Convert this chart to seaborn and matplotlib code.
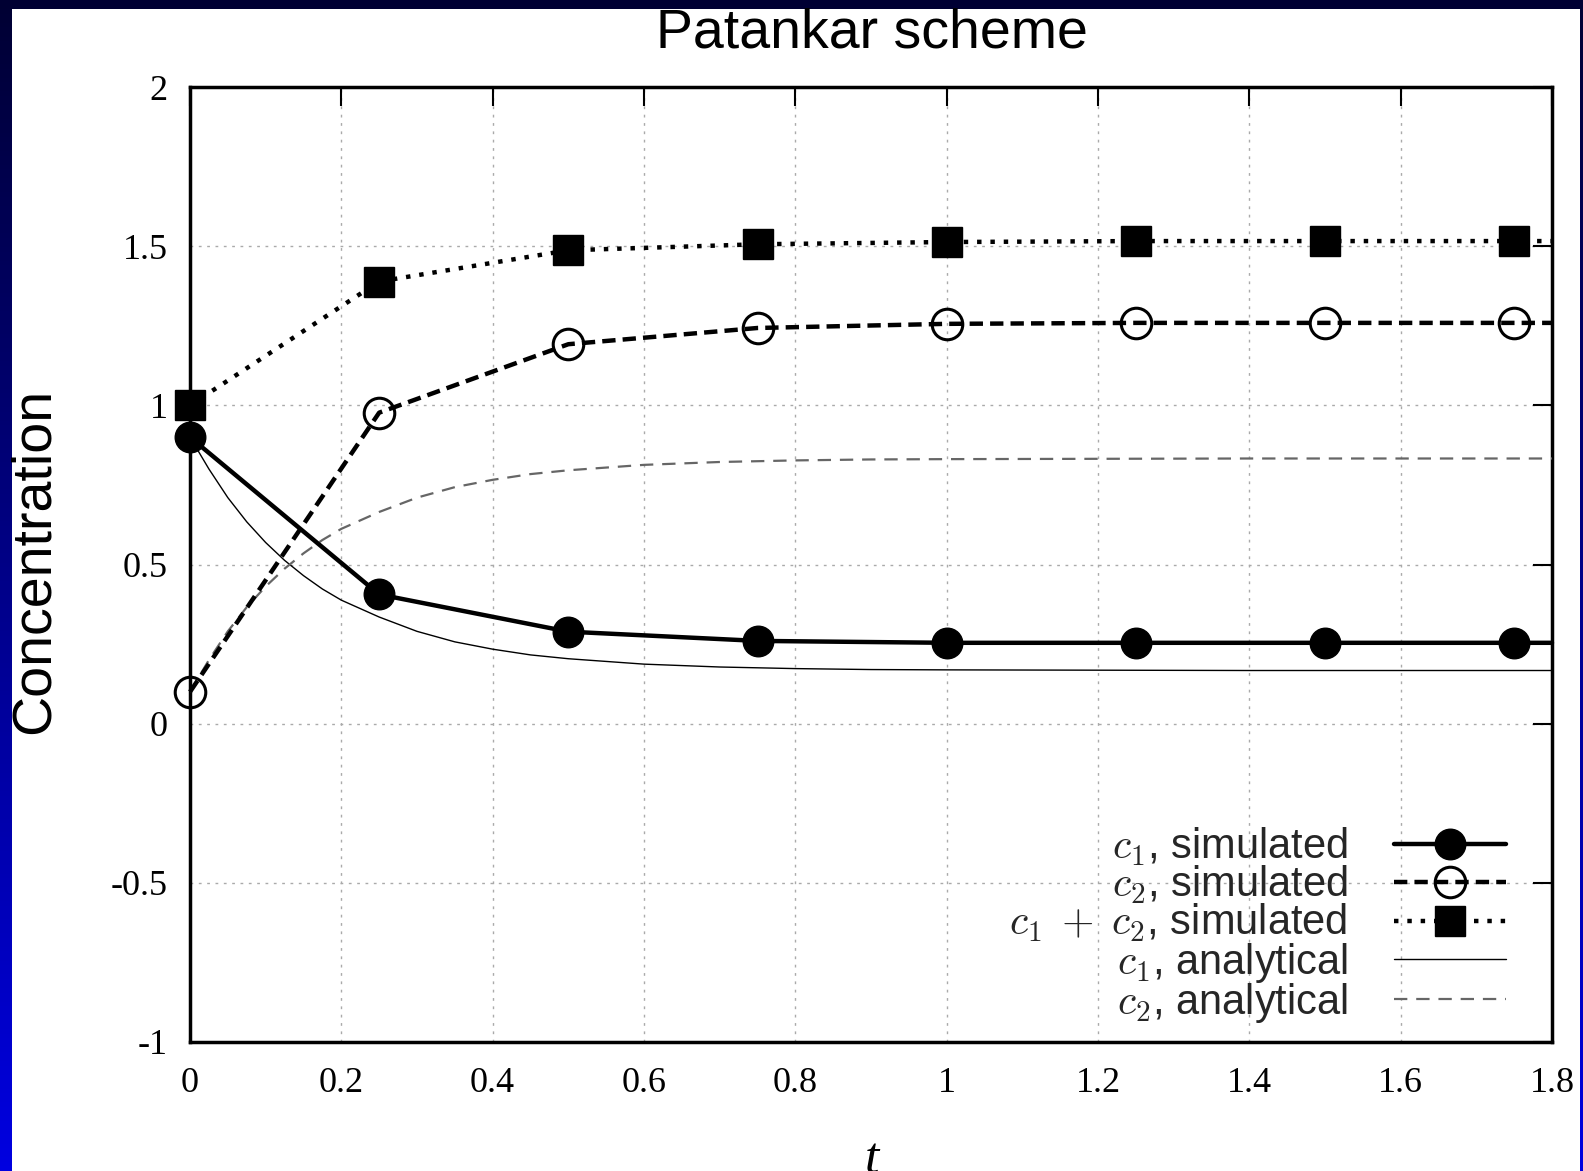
import numpy as np
import matplotlib
matplotlib.use("Agg")
import matplotlib.pyplot as plt
from matplotlib.colors import LinearSegmentedColormap
from matplotlib.patches import Rectangle
import seaborn as sns

# Patankar scheme, dt = 0.25 (last entry just carries the steady value to the right edge)
t_sim = [0, 0.25, 0.5, 0.75, 1.0, 1.25, 1.5, 1.75, 1.8]
c1_sim = [0.90, 0.406, 0.289, 0.260, 0.254, 0.254, 0.254, 0.254, 0.254]
c2_sim = [0.10, 0.977, 1.192, 1.243, 1.256, 1.259, 1.259, 1.259, 1.259]
sum_sim = [1.00, 1.389, 1.487, 1.506, 1.513, 1.516, 1.516, 1.516, 1.516]

# analytical curves
t_ana = [0, 0.025, 0.05, 0.075, 0.1, 0.125, 0.15, 0.175, 0.2, 0.25, 0.3, 0.35,
         0.4, 0.45, 0.5, 0.6, 0.7, 0.8, 0.9, 1.0, 1.2, 1.4, 1.6, 1.8]
c1_ana = [0.90, 0.80, 0.71, 0.634, 0.569, 0.513, 0.465, 0.423, 0.388, 0.335, 0.29, 0.257,
          0.234, 0.216, 0.204, 0.187, 0.178, 0.173, 0.170, 0.169, 0.168, 0.167, 0.167, 0.167]
c2_ana = [0.10, 0.20, 0.29, 0.366, 0.431, 0.487, 0.535, 0.577, 0.612, 0.665, 0.71, 0.743,
          0.766, 0.784, 0.796, 0.813, 0.822, 0.827, 0.830, 0.831, 0.832, 0.833, 0.833, 0.833]

xticks = [0, 0.2, 0.4, 0.6, 0.8, 1.0, 1.2, 1.4, 1.6, 1.8]
xtick_labels = ['0', '0.2', '0.4', '0.6', '0.8', '1', '1.2', '1.4', '1.6', '1.8']
yticks = [-1, -0.5, 0, 0.5, 1, 1.5, 2]
ytick_labels = ['-1', '-0.5', '0', '0.5', '1', '1.5', '2']

labels_sim = ['$c_1$, simulated', '$c_2$, simulated', r'$c_1\;+\;c_2$, simulated']
labels_ana = ['$c_1$, analytical', '$c_2$, analytical']

sns.set_theme(style='white')
plt.rcParams['font.family'] = ['Liberation Sans', 'DejaVu Sans']
plt.rcParams['mathtext.fontset'] = 'cm'

W, H = 1583, 1171
fig = plt.figure(figsize=(W / 100, H / 100), dpi=100)

# slide background: blue gradient with a white panel
bg = fig.add_axes([0, 0, 1, 1], zorder=-10)
grad = np.linspace(0, 1, 256).reshape(-1, 1)
cmap = LinearSegmentedColormap.from_list('slide', ['#000033', '#0000e0'])
bg.imshow(grad, aspect='auto', cmap=cmap, extent=[0, 1, 0, 1], origin='upper')
bg.add_patch(Rectangle((12 / W, 0), (1580 - 12) / W, 1162 / H,
                       transform=bg.transAxes, facecolor='white', edgecolor='none'))
bg.axis('off')

ax = fig.add_axes([190 / W, 1 - 1042 / H, (1552 - 190) / W, (1042 - 87) / H])
ax.set_facecolor('white')

sns.lineplot(x=t_ana, y=c1_ana, ax=ax, color='black', lw=1.0,
             label=labels_ana[0], zorder=3)
sns.lineplot(x=t_ana, y=c2_ana, ax=ax, color='#666666', lw=1.6,
             linestyle=(0, (6, 4)), label=labels_ana[1], zorder=3)

sns.lineplot(x=t_sim, y=c1_sim, ax=ax, color='black', lw=3.2, marker='o',
             markersize=22, markeredgecolor='black', markeredgewidth=1,
             markevery=slice(0, 8), clip_on=False, label=labels_sim[0], zorder=5)
sns.lineplot(x=t_sim, y=c2_sim, ax=ax, color='black', lw=3.2,
             linestyle=(0, (3, 1.6)), marker='o', markersize=22,
             markerfacecolor='none', markeredgecolor='black', markeredgewidth=2.2,
             markevery=slice(0, 8), clip_on=False, label=labels_sim[1], zorder=5)
sns.lineplot(x=t_sim, y=sum_sim, ax=ax, color='black', lw=3.2,
             linestyle=(0, (1, 2)), marker='s', markersize=22,
             markeredgecolor='black', markeredgewidth=1,
             markevery=slice(0, 8), clip_on=False, label=labels_sim[2], zorder=5)

ax.set_xlim(0, 1.8)
ax.set_ylim(-1, 2)
ax.set_xticks(xticks, xtick_labels, fontfamily='Liberation Serif', fontsize=26)
ax.set_yticks(yticks, ytick_labels, fontfamily='Liberation Serif', fontsize=26)
ax.tick_params(direction='in', length=14, width=1.5, top=True, right=True,
               colors='black')
ax.tick_params(axis='x', pad=18)
ax.tick_params(axis='y', pad=16)
ax.grid(True, color='#aaaaaa', linestyle=(0, (2, 4)), lw=1)
ax.set_axisbelow(True)
for sp in ax.spines.values():
    sp.set_linewidth(2.5)
    sp.set_color('black')
ax.set_xlabel('')
ax.set_ylabel('')

handles, labels = ax.get_legend_handles_labels()
order = [2, 3, 4, 0, 1]
ax.legend([handles[i] for i in order], [labels[i] for i in order],
          loc='lower right', bbox_to_anchor=((1506 - 190) / 1362, 0.018),
          frameon=False, markerfirst=False, fontsize=30, handlelength=2.7,
          handletextpad=1.1, labelspacing=-0.09, borderpad=0, borderaxespad=0)

fig.text(872 / W, 1 - 48 / H, 'Patankar scheme', ha='center', va='baseline',
         fontsize=40, color='black')
fig.text(49 / W, 1 - 561 / H, 'Concentration', rotation=90, rotation_mode='anchor',
         ha='center', va='baseline', fontsize=40, color='black')
fig.text(872 / W, 1 - 1172 / H, 't', ha='center', va='baseline', fontsize=37,
         fontfamily='Liberation Serif', fontstyle='italic', color='black')

fig.savefig('out.png', dpi=100)
